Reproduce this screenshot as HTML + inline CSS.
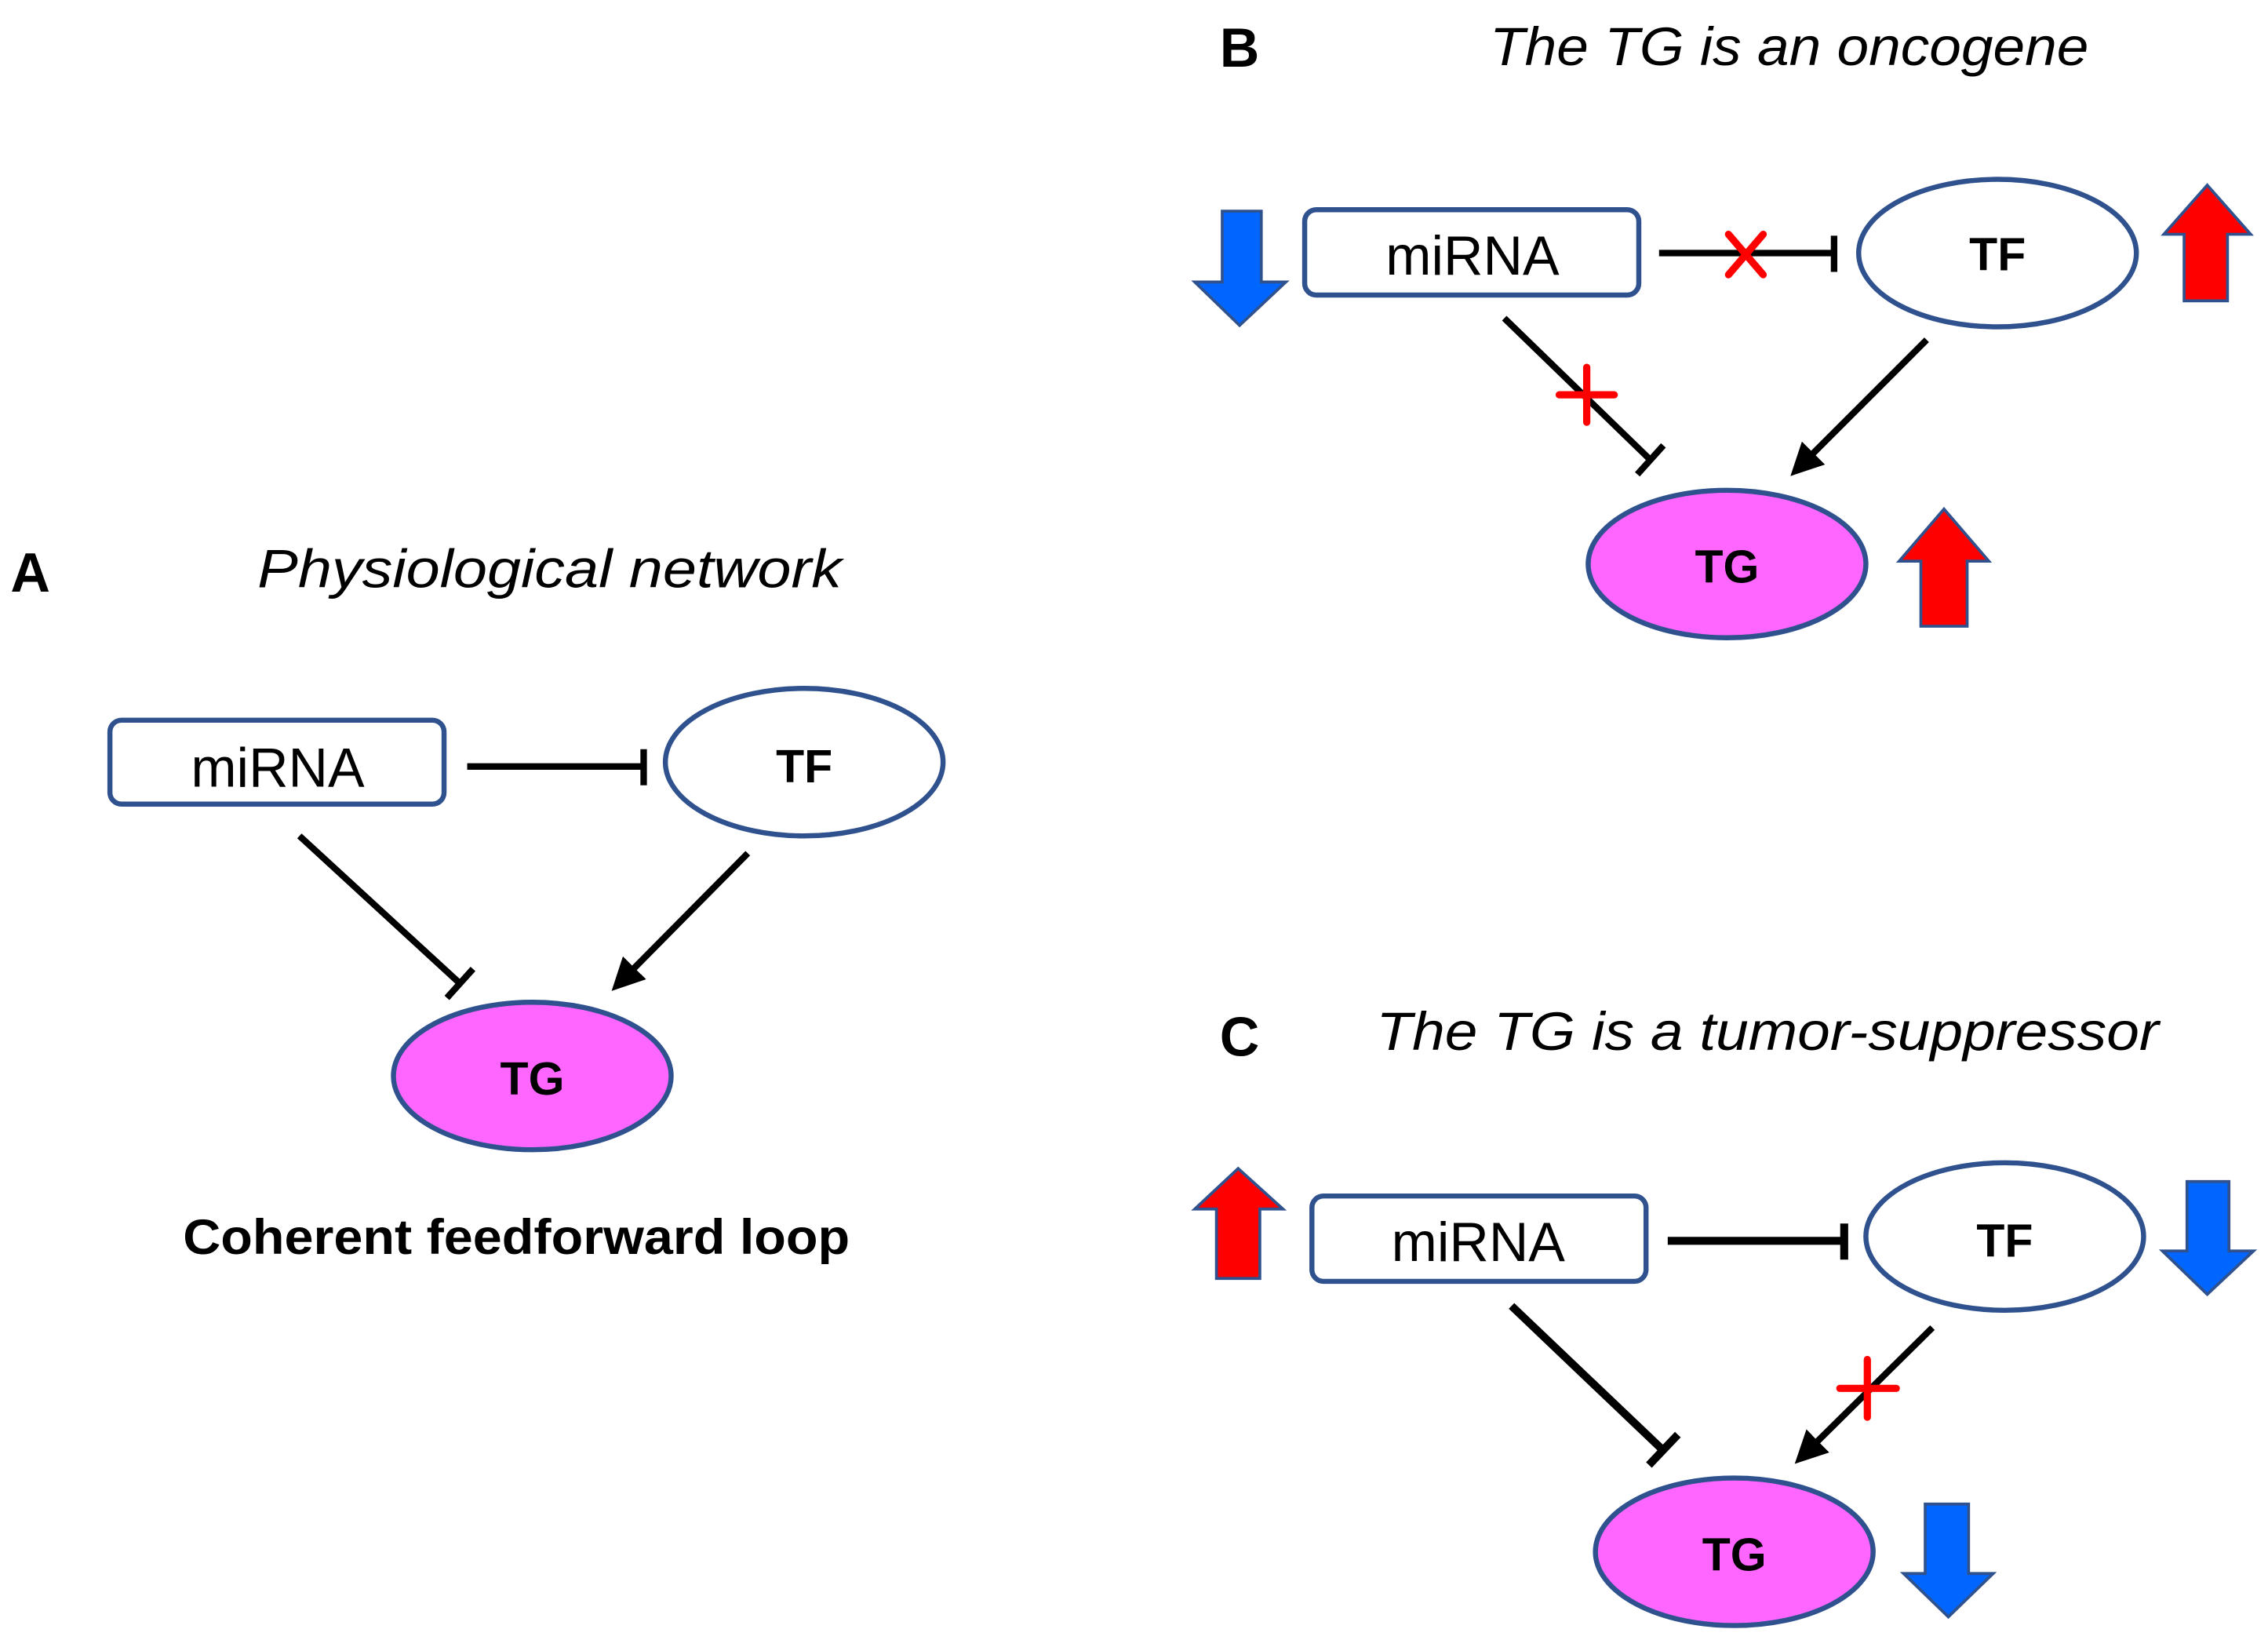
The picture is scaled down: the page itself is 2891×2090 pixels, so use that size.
<!DOCTYPE html>
<html><head><meta charset="utf-8"><style>html,body{margin:0;padding:0;background:#fff}svg{display:block}</style></head>
<body>
<svg width="2891" height="2090" viewBox="0 0 1568 1134" preserveAspectRatio="none" xmlns="http://www.w3.org/2000/svg" font-family="Liberation Sans, sans-serif">
<defs>
<marker id="ah" viewBox="0 0 10 10" refX="8" refY="5" markerWidth="5" markerHeight="5" orient="auto"><path d="M0,0 L10,5 L0,10 z" fill="#000"/></marker>
</defs>
<g stroke="#2F528F" stroke-width="3.5">
<rect x="76" y="498" width="231" height="58" rx="8" fill="#fff"/>
<ellipse cx="556" cy="527" rx="96" ry="51" fill="#fff"/>
<ellipse cx="368" cy="744" rx="96" ry="51" fill="#FF66FF"/>
<rect x="902" y="145" width="231" height="59" rx="8" fill="#fff"/>
<ellipse cx="1381" cy="175" rx="96" ry="51" fill="#fff"/>
<ellipse cx="1194" cy="390" rx="96" ry="51" fill="#FF66FF"/>
<rect x="907" y="827" width="231" height="59" rx="8" fill="#fff"/>
<ellipse cx="1386" cy="855" rx="96" ry="51" fill="#fff"/>
<ellipse cx="1199" cy="1073" rx="96" ry="51" fill="#FF66FF"/>
<path d="M845,146 L872,146 L872,195 L889,195 L857,225 L826,195 L845,195 Z" fill="#0066FF" stroke-width="2"/>
<path d="M1526,128 L1556,162 L1540,162 L1540,208 L1510,208 L1510,162 L1496,162 Z" fill="#FF0000" stroke-width="2"/>
<path d="M1344,352 L1375,388 L1360,388 L1360,433 L1328,433 L1328,388 L1313,388 Z" fill="#FF0000" stroke-width="2"/>
<path d="M856,808 L887,836 L871,836 L871,884 L841,884 L841,836 L826,836 Z" fill="#FF0000" stroke-width="2"/>
<path d="M1512,817 L1541,817 L1541,865 L1558,865 L1526,895 L1495,865 L1512,865 Z" fill="#0066FF" stroke-width="2"/>
<path d="M1331,1040 L1361,1040 L1361,1088 L1378,1088 L1347,1118 L1316,1088 L1331,1088 Z" fill="#0066FF" stroke-width="2"/>
</g>
<g stroke="#000" stroke-width="4.5" fill="none">
<line x1="323" y1="530" x2="445" y2="530"/><line x1="445" y1="518" x2="445" y2="543"/>
<line x1="207" y1="578" x2="318" y2="680"/><line x1="309" y1="690" x2="327" y2="670"/>
<line x1="517" y1="590" x2="426" y2="682" marker-end="url(#ah)"/>
<line x1="1147" y1="175" x2="1268" y2="175"/><line x1="1268" y1="163" x2="1268" y2="188"/>
<line x1="1040" y1="220" x2="1141" y2="318"/><line x1="1132" y1="328" x2="1150" y2="308"/>
<line x1="1332" y1="235" x2="1241" y2="326" marker-end="url(#ah)"/>
<line x1="1153" y1="858" x2="1275" y2="858" stroke-width="5.5"/><line x1="1275" y1="846" x2="1275" y2="871" stroke-width="5.5"/>
<line x1="1045" y1="903" x2="1150" y2="1003" stroke-width="5.5"/><line x1="1140" y1="1013" x2="1160" y2="992" stroke-width="5.5"/>
<line x1="1336" y1="918" x2="1244" y2="1009" marker-end="url(#ah)"/>
</g>
<g stroke="#FF0000" stroke-width="5" stroke-linecap="round">
<line x1="1195" y1="162" x2="1219" y2="190"/><line x1="1219" y1="162" x2="1195" y2="190"/>
<line x1="1097" y1="254" x2="1097" y2="292"/><line x1="1078" y1="273" x2="1116" y2="273"/>
<line x1="1291" y1="940" x2="1291" y2="980"/><line x1="1272" y1="960" x2="1311" y2="960"/>
</g>
<g fill="#000" text-anchor="middle">
<text x="21" y="409" font-size="38" font-weight="bold">A</text>
<text x="857" y="46" font-size="38" font-weight="bold">B</text>
<text x="857" y="730" font-size="38" font-weight="bold">C</text>
<text x="380" y="406" font-size="37" font-style="italic" textLength="404" lengthAdjust="spacingAndGlyphs">Physiological network</text>
<text x="1237" y="45" font-size="37" font-style="italic" textLength="414" lengthAdjust="spacingAndGlyphs">The TG is an oncogene</text>
<text x="1222" y="726" font-size="37" font-style="italic" textLength="541" lengthAdjust="spacingAndGlyphs">The TG is a tumor-suppressor</text>
<text x="357" y="867" font-size="34" font-weight="bold" textLength="461" lengthAdjust="spacingAndGlyphs">Coherent feedforward loop</text>
<text x="192" y="544" font-size="38" textLength="120" lengthAdjust="spacingAndGlyphs">miRNA</text>
<text x="1018" y="190" font-size="38" textLength="120" lengthAdjust="spacingAndGlyphs">miRNA</text>
<text x="1022" y="872" font-size="38" textLength="120" lengthAdjust="spacingAndGlyphs">miRNA</text>
<text x="556" y="541" font-size="32" font-weight="bold">TF</text>
<text x="1381" y="187" font-size="32" font-weight="bold">TF</text>
<text x="1386" y="869" font-size="32" font-weight="bold">TF</text>
<text x="368" y="757" font-size="32" font-weight="bold">TG</text>
<text x="1194" y="403" font-size="32" font-weight="bold">TG</text>
<text x="1199" y="1086" font-size="32" font-weight="bold">TG</text>
</g>
</svg>
</body></html>
